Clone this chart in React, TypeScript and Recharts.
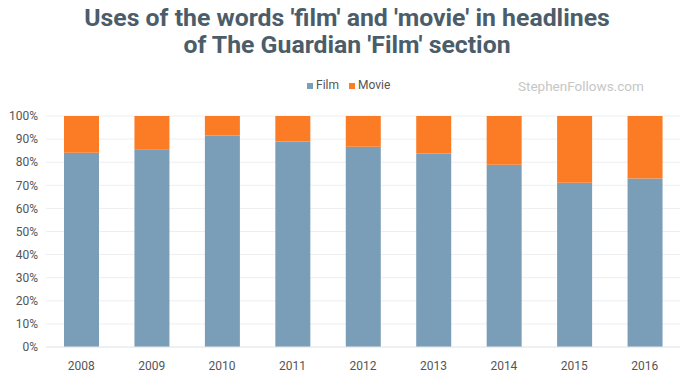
import React from "react";
import { BarChart, Bar, XAxis, YAxis, CartesianGrid } from "recharts";

const years = ["2008", "2009", "2010", "2011", "2012", "2013", "2014", "2015", "2016"];
const filmPct = [84.1, 85.6, 91.6, 89.0, 86.7, 83.8, 78.9, 71.1, 72.9];
const moviePct = [15.9, 14.4, 8.4, 11.0, 13.3, 16.2, 21.1, 28.9, 27.1];
const yTicks = [0, 10, 20, 30, 40, 50, 60, 70, 80, 90, 100];
const seriesNames = ["Film", "Movie"];

const data = years.map((y, i) => ({ year: y, Film: filmPct[i], Movie: moviePct[i] }));

const FILM = "#7a9db8";
const MOVIE = "#fc7b25";
const FONT = "Roboto, 'Noto Sans', sans-serif";

export default function App() {
  return (
    <div style={{ position: "relative", width: 700, height: 377, background: "#fff" }}>
      <style>{`body{margin:0;}`}</style>
      <BarChart
        width={700}
        height={377}
        data={data}
        margin={{ top: 116, right: 20, bottom: 0, left: 0 }}
        barSize={35}
      >
        <CartesianGrid vertical={false} stroke="#eceef2" strokeWidth={1} />
        <XAxis
          dataKey="year"
          height={30}
          axisLine={{ stroke: "#e6e9ee" }}
          tickLine={false}
          interval={0}
          tick={{ fill: "#555", fontSize: 12, fontFamily: FONT }}
          tickMargin={8}
        />
        <YAxis
          width={46}
          domain={[0, 100]}
          ticks={yTicks}
          interval={0}
          tickFormatter={(v) => `${v}%`}
          axisLine={false}
          tickLine={false}
          tickSize={0}
          tickMargin={8}
          tick={{ fill: "#555", fontSize: 12, fontFamily: FONT }}
        />
        <Bar dataKey="Film" stackId="a" fill={FILM} isAnimationActive={false} />
        <Bar dataKey="Movie" stackId="a" fill={MOVIE} isAnimationActive={false} />
      </BarChart>
      <svg
        width={700}
        height={110}
        style={{ position: "absolute", left: 0, top: 0, pointerEvents: "none" }}
      >
        <text x={347} y={26} textAnchor="middle" fontFamily={FONT} fontWeight={700} fontSize={24.8} fill="#4b5d6a">
          Uses of the words 'film' and 'movie' in headlines
        </text>
        <text x={347} y={53} textAnchor="middle" fontFamily={FONT} fontWeight={700} fontSize={24.8} fill="#4b5d6a">
          of The Guardian 'Film' section
        </text>
        <rect x={307} y={83} width={6} height={6} fill={FILM} />
        <text x={316} y={89} fontFamily={FONT} fontSize={12} fill="#555">{seriesNames[0]}</text>
        <rect x={349} y={83} width={6} height={6} fill={MOVIE} />
        <text x={358} y={89} fontFamily={FONT} fontSize={12} fill="#555">{seriesNames[1]}</text>
        <text x={518} y={91} fontFamily={FONT} fontSize={13.5} fill="#c6c6c6">
          StephenFollows.com
        </text>
      </svg>
    </div>
  );
}
